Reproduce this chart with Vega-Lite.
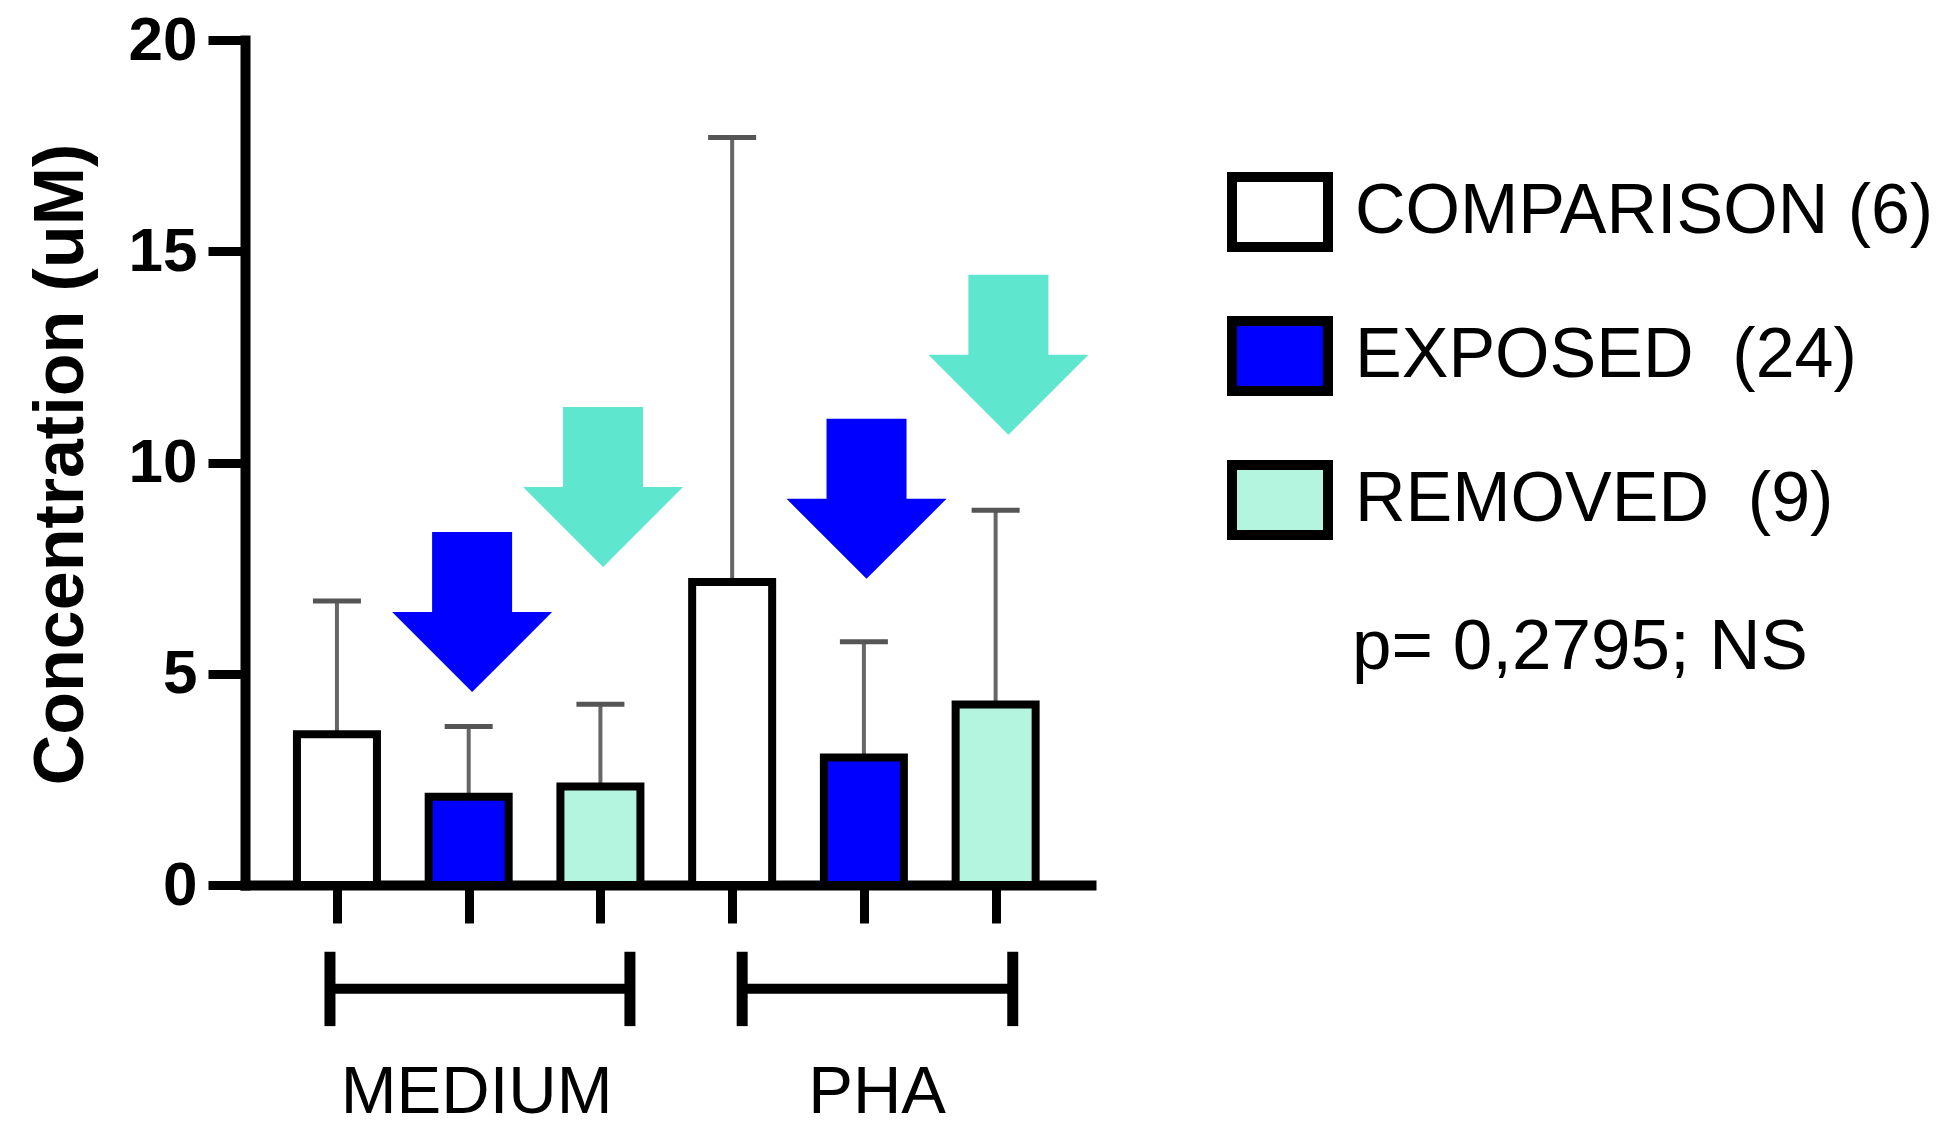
{
  "$schema": "https://vega.github.io/schema/vega-lite/v6.json",
  "autosize": {"type": "none"},
  "padding": {"left": 245, "top": 40, "right": 848, "bottom": 242},
  "width": 846,
  "height": 845,
  "background": "white",
  "config": {
    "view": {"stroke": null},
    "font": "Liberation Sans"
  },
  "datasets": {
    "bars": [
      {"group": "COMPARISON (6)", "cond": "MEDIUM", "pos": 1, "mean": 3.57, "upper": 6.72},
      {"group": "EXPOSED\u00a0\u00a0(24)", "cond": "MEDIUM", "pos": 2, "mean": 2.09, "upper": 3.75},
      {"group": "REMOVED\u00a0\u00a0(9)", "cond": "MEDIUM", "pos": 3, "mean": 2.33, "upper": 4.28},
      {"group": "COMPARISON (6)", "cond": "PHA", "pos": 4, "mean": 7.17, "upper": 17.69},
      {"group": "EXPOSED\u00a0\u00a0(24)", "cond": "PHA", "pos": 5, "mean": 3.02, "upper": 5.76},
      {"group": "REMOVED\u00a0\u00a0(9)", "cond": "PHA", "pos": 6, "mean": 4.27, "upper": 8.87}
    ],
    "arrows": [
      {"arrow": "EXPOSED", "x": 2.026, "y": 6.46},
      {"arrow": "REMOVED", "x": 3.02, "y": 9.42},
      {"arrow": "EXPOSED", "x": 5.02, "y": 9.14},
      {"arrow": "REMOVED", "x": 6.097, "y": 12.55}
    ],
    "brackets": [
      {"cond": "MEDIUM", "start": 0.947, "end": 3.224, "mid": 2.06},
      {"cond": "PHA", "start": 4.076, "end": 6.13, "mid": 5.1}
    ]
  },
  "resolve": {"scale": {"fill": "independent"}},
  "layer": [
    {
      "data": {"name": "bars"},
      "mark": {"type": "rule", "color": "#666666", "strokeWidth": 4},
      "encoding": {
        "x": {"field": "pos", "type": "quantitative", "scale": {"domain": [0.34, 6.686], "nice": false, "zero": false},
          "axis": {"values": [1, 2, 3, 4, 5, 6], "labels": false, "title": null, "grid": false, "domainWidth": 10, "domainColor": "black", "domainCap": "square", "tickSize": 38, "tickWidth": 9, "tickColor": "black", "tickCap": "butt"}},
        "y": {"field": "mean", "type": "quantitative", "scale": {"domain": [0, 20], "nice": false},
          "axis": {"values": [0, 5, 10, 15, 20], "grid": false, "title": "Concentration (uM)", "titleFontSize": 70, "titleFontWeight": "bold", "titleColor": "black", "titleX": -163, "titleY": 424, "titleBaseline": "alphabetic", "titleAngle": -90, "titleAlign": "center",
            "labelFontSize": 62, "labelFontWeight": "bold", "labelColor": "black", "labelPadding": 11, "labelBaseline": "middle",
            "domainWidth": 10, "domainColor": "black", "domainCap": "square", "tickSize": 37, "tickWidth": 9, "tickColor": "black", "tickCap": "butt"}},
        "y2": {"field": "upper"}
      }
    },
    {
      "data": {"name": "bars"},
      "mark": {"type": "tick", "orient": "horizontal", "color": "#555555", "size": 48, "thickness": 5, "opacity": 1},
      "encoding": {
        "x": {"field": "pos", "type": "quantitative"},
        "y": {"field": "upper", "type": "quantitative"}
      }
    },
    {
      "data": {"name": "bars"},
      "mark": {"type": "bar", "size": 80, "stroke": "black", "strokeWidth": 8, "opacity": 1},
      "encoding": {
        "x": {"field": "pos", "type": "quantitative"},
        "y": {"field": "mean", "type": "quantitative"},
        "fill": {"field": "group", "type": "nominal",
          "scale": {"domain": ["COMPARISON (6)", "EXPOSED\u00a0\u00a0(24)", "REMOVED\u00a0\u00a0(9)"], "range": ["#ffffff", "#0000ff", "#b3f5df"]},
          "legend": {"orient": "none", "legendX": 982, "legendY": 119, "padding": 0, "title": "p= 0,2795; NS", "titleOrient": "bottom", "titleAnchor": "middle", "titleFontSize": 71, "titleFontWeight": "normal", "titleColor": "black", "titlePadding": 58, "titleLimit": 1000,
            "symbolType": "M-1,-0.729L1,-0.729L1,0.729L-1,0.729Z", "symbolSize": 9216, "symbolStrokeWidth": 10, "symbolStrokeColor": "black", "symbolOpacity": 1,
            "labelFontSize": 70, "labelColor": "black", "labelOffset": 22, "labelLimit": 1000, "rowPadding": 34}}
      }
    },
    {
      "data": {"name": "arrows"},
      "mark": {"type": "point", "filled": true, "opacity": 1, "size": 25600, "strokeWidth": 0, "shape": "M-0.5,-1L0.5,-1L0.5,0L1,0L0,1L-1,0L-0.5,0Z"},
      "encoding": {
        "x": {"field": "x", "type": "quantitative"},
        "y": {"field": "y", "type": "quantitative"},
        "fill": {"field": "arrow", "type": "nominal", "scale": {"domain": ["EXPOSED", "REMOVED"], "range": ["#0000ff", "#5ee6ce"]}, "legend": null}
      }
    },
    {
      "data": {"name": "brackets"},
      "mark": {"type": "rule", "color": "black", "strokeWidth": 10, "strokeCap": "butt"},
      "encoding": {
        "x": {"field": "start", "type": "quantitative"},
        "x2": {"field": "end"},
        "y": {"datum": -2.454}
      }
    },
    {
      "data": {"name": "brackets"},
      "mark": {"type": "rule", "color": "black", "strokeWidth": 11, "strokeCap": "butt"},
      "encoding": {
        "x": {"field": "start", "type": "quantitative"},
        "y": {"datum": -1.58},
        "y2": {"datum": -3.34}
      }
    },
    {
      "data": {"name": "brackets"},
      "mark": {"type": "rule", "color": "black", "strokeWidth": 11, "strokeCap": "butt"},
      "encoding": {
        "x": {"field": "end", "type": "quantitative"},
        "y": {"datum": -1.58},
        "y2": {"datum": -3.34}
      }
    },
    {
      "data": {"name": "brackets"},
      "mark": {"type": "text", "fontSize": 67, "color": "black", "align": "center", "baseline": "alphabetic"},
      "encoding": {
        "x": {"field": "mid", "type": "quantitative"},
        "y": {"datum": -5.4},
        "text": {"field": "cond"}
      }
    }
  ]
}
